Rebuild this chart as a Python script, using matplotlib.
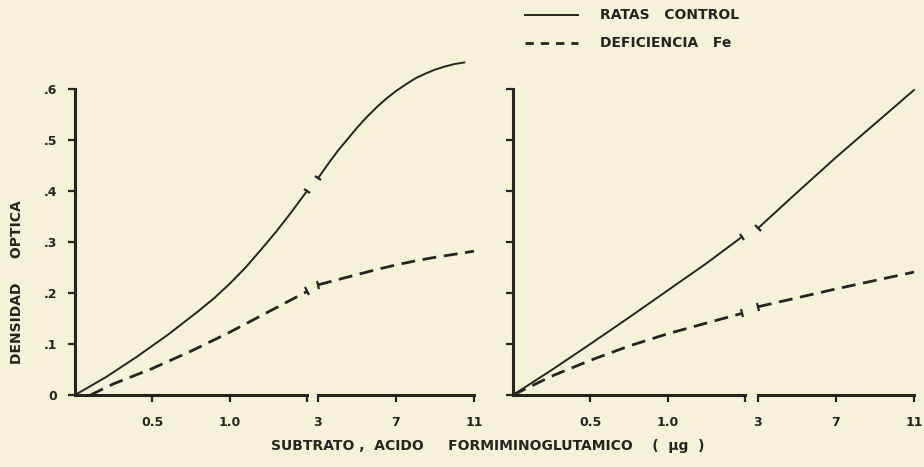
import numpy as np
import matplotlib
matplotlib.use("Agg")
import matplotlib.pyplot as plt
from matplotlib.markers import MarkerStyle
from matplotlib.transforms import Affine2D
from matplotlib.lines import Line2D

plt.rcParams['font.family'] = ['DejaVu Sans']
plt.rcParams['lines.scale_dashes'] = False

# ---------------- data ----------------
# left panel
L_ctrl_x1 = [0, 0.2, 0.4, 0.6, 0.8, 0.9, 1.0, 1.1, 1.2, 1.3, 1.4, 1.5]
L_ctrl_y1 = [0, 0.035, 0.075, 0.118, 0.165, 0.19, 0.218, 0.249, 0.284, 0.32, 0.359, 0.40]
L_ctrl_x2 = [3, 3.5, 4, 4.5, 5, 5.5, 6, 6.5, 7, 7.5, 8, 8.5, 9, 9.5, 10, 10.5]
L_ctrl_y2 = [0.425, 0.452, 0.478, 0.501, 0.524, 0.545, 0.564, 0.581, 0.596, 0.609,
             0.621, 0.63, 0.638, 0.644, 0.649, 0.652]
L_def_x1 = [0.1, 0.25, 0.5, 0.75, 1.0, 1.25, 1.5]
L_def_y1 = [0.0, 0.022, 0.052, 0.086, 0.123, 0.163, 0.203]
L_def_x2 = [3, 4, 5, 6, 7, 8, 9, 10, 11]
L_def_y2 = [0.216, 0.226, 0.236, 0.246, 0.255, 0.263, 0.27, 0.276, 0.282]
# right panel
R_ctrl_x1 = [0, 0.25, 0.5, 0.75, 1.0, 1.25, 1.48]
R_ctrl_y1 = [0, 0.049, 0.10, 0.152, 0.205, 0.258, 0.31]
R_ctrl_x2 = [3, 5, 7, 9, 11]
R_ctrl_y2 = [0.327, 0.397, 0.466, 0.532, 0.598]
R_def_x1 = [0, 0.25, 0.5, 0.75, 1.0, 1.25, 1.48]
R_def_y1 = [0, 0.037, 0.068, 0.096, 0.12, 0.141, 0.16]
R_def_x2 = [3, 7, 11]
R_def_y2 = [0.173, 0.208, 0.241]

y_ticks = [0, 0.1, 0.2, 0.3, 0.4, 0.5, 0.6]
y_ticklabels = ['0', '.1', '.2', '.3', '.4', '.5', '.6']
x1_ticks = [0.5, 1.0, 1.5]
x1_ticklabels = ['0.5', '1.0', '']
x2_ticks = [3, 7, 11]
x2_ticklabels = ['3', '7', '11']

legend_labels = ['RATAS   CONTROL', 'DEFICIENCIA   Fe']
xlabel = 'SUBTRATO ,  ACIDO     FORMIMINOGLUTAMICO    (  μg  )'
ylabel = 'DENSIDAD     OPTICA'

# ---------------- styling ----------------
BG = '#f6f2d8'
INK = '#262420'
W, H = 924, 467
fig = plt.figure(figsize=(W / 100, H / 100), dpi=100, facecolor=BG)

def px_axes(x0, x1, y0=395, ytop=38):
    return fig.add_axes([x0 / W, (H - y0) / H, (x1 - x0) / W, (y0 - ytop) / H])

YMAX = 0.7
tickfont = dict(fontsize=9, fontweight='bold', color=INK)
DASH = (10, 5.5)

def style_axes(a, xlim, xticks, xlabels, yaxis, ylabels_on):
    a.set_facecolor('none')
    a.set_xlim(*xlim)
    a.set_ylim(0, YMAX)
    for s in ['top', 'right']:
        a.spines[s].set_visible(False)
    a.spines['bottom'].set_linewidth(2.2)
    a.spines['bottom'].set_color(INK)
    a.set_xticks(xticks)
    a.set_xticklabels(xlabels, **tickfont)
    a.tick_params(axis='x', direction='out', length=5, width=1.6, color=INK, pad=10)
    if yaxis:
        a.spines['left'].set_linewidth(2.2)
        a.spines['left'].set_color(INK)
        a.spines['left'].set_bounds(0, 0.6)
        a.set_yticks(y_ticks)
        if ylabels_on:
            a.set_yticklabels(y_ticklabels, **tickfont)
        else:
            a.set_yticklabels([])
        a.tick_params(axis='y', direction='out', length=5, width=1.6, color=INK, pad=8)
    else:
        a.spines['left'].set_visible(False)
        a.set_yticks([])

def break_mark(a, x, y, xs, ys, idx):
    # small bar perpendicular to the curve at a segment end
    p0 = a.transData.transform((xs[idx], ys[idx]))
    j = idx + 1 if idx == 0 else idx - 1
    p1 = a.transData.transform((xs[j], ys[j]))
    ang = np.degrees(np.arctan2(p1[1] - p0[1], p1[0] - p0[0]))
    m = MarkerStyle('|', transform=Affine2D().rotate_deg(ang))
    a.plot([x], [y], marker=m, ms=6, mew=1.6, color=INK, clip_on=False, linestyle='none')

panels = [
    (75, 307, 318, 474, True,
     (L_ctrl_x1, L_ctrl_y1, L_ctrl_x2, L_ctrl_y2),
     (L_def_x1, L_def_y1, L_def_x2, L_def_y2)),
    (513, 745, 758, 914, False,
     (R_ctrl_x1, R_ctrl_y1, R_ctrl_x2, R_ctrl_y2),
     (R_def_x1, R_def_y1, R_def_x2, R_def_y2)),
]

for (a0, a1, b0, b1, labels_on, ctrl, defi) in panels:
    ax1 = px_axes(a0, a1)
    ax2 = px_axes(b0, b1)
    style_axes(ax1, (0, 1.5), x1_ticks, x1_ticklabels, True, labels_on)
    style_axes(ax2, (3, 11), x2_ticks, x2_ticklabels, False, False)
    cx1, cy1, cx2, cy2 = ctrl
    dx1, dy1, dx2, dy2 = defi
    ax1.plot(cx1, cy1, color=INK, lw=1.4, clip_on=False)
    ax2.plot(cx2, cy2, color=INK, lw=1.4, clip_on=False)
    ax1.plot(dx1, dy1, color=INK, lw=2.0, dashes=DASH, clip_on=False)
    ax2.plot(dx2, dy2, color=INK, lw=2.0, dashes=DASH, clip_on=False)
    break_mark(ax1, cx1[-1], cy1[-1], cx1, cy1, len(cx1) - 1)
    break_mark(ax2, cx2[0], cy2[0], cx2, cy2, 0)
    break_mark(ax1, dx1[-1], dy1[-1], dx1, dy1, len(dx1) - 1)
    break_mark(ax2, dx2[0], dy2[0], dx2, dy2, 0)

# axis titles
fig.text(488 / W, 1 - 446 / H, xlabel, ha='center', va='center',
         fontsize=10, fontweight='bold', color=INK)
fig.text(17 / W, 1 - 282 / H, ylabel, ha='center', va='center', rotation=90,
         fontsize=10, fontweight='bold', color=INK)

# legend
ly = [15, 43]
styles = [dict(lw=1.4), dict(lw=2.0, dashes=(6, 5))]
for yy, st, lab in zip(ly, styles, legend_labels):
    fig.add_artist(Line2D([525 / W, 578 / W], [1 - yy / H, 1 - yy / H],
                          color=INK, transform=fig.transFigure, **st))
    fig.text(600 / W, 1 - yy / H, lab, ha='left', va='center',
             fontsize=10, fontweight='bold', color=INK)

fig.savefig('out.png', dpi=100, facecolor=BG)
